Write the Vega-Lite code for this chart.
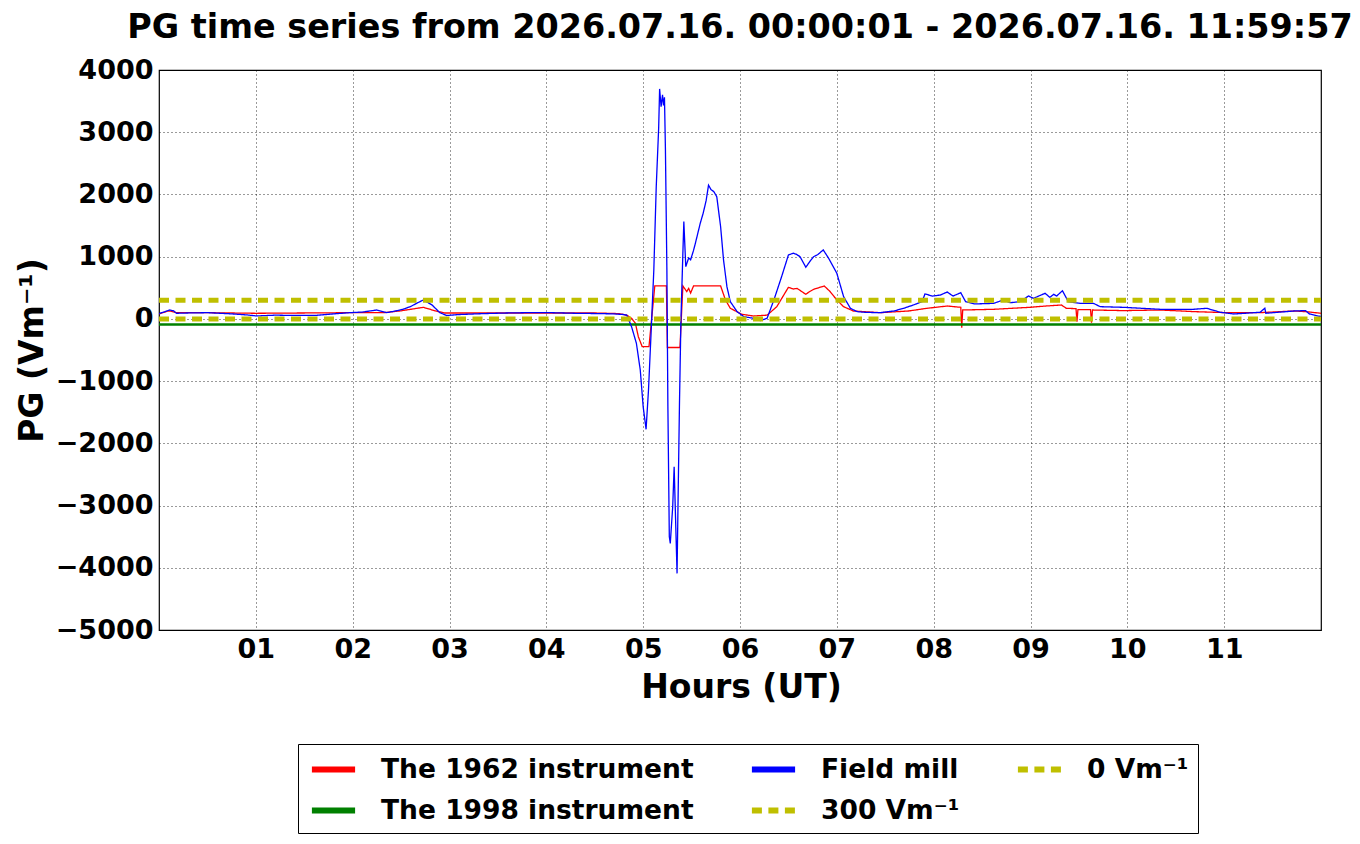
{
  "$schema": "https://vega.github.io/schema/vega-lite/v6.json",
  "width": 1162,
  "height": 560,
  "autosize": {"type": "none"},
  "padding": {"left": 159, "top": 70, "right": 39, "bottom": 214},
  "background": "white",
  "title": {
    "text": "PG time series from 2026.07.16. 00:00:01 - 2026.07.16. 11:59:57",
    "anchor": "middle",
    "frame": "group",
    "font": "DejaVu Sans",
    "fontSize": 33.4,
    "fontWeight": "bold",
    "color": "black",
    "baseline": "alphabetic",
    "offset": -15
  },
  "config": {
    "view": {"stroke": "black", "strokeWidth": 1.2},
    "font": "DejaVu Sans",
    "axis": {
      "grid": true,
      "gridColor": "black",
      "gridDash": [1, 3],
      "gridWidth": 0.8,
      "gridOpacity": 1,
      "domain": false,
      "ticks": false,
      "labelFont": "DejaVu Sans",
      "labelFontSize": 27,
      "labelFontWeight": "bold",
      "labelColor": "black",
      "titleFont": "DejaVu Sans",
      "titleFontSize": 33,
      "titleFontWeight": "bold",
      "titleColor": "black"
    },
    "legend": {
      "orient": "none",
      "legendX": 139,
      "legendY": 674,
      "columns": 3,
      "direction": "horizontal",
      "symbolType": "M-1.6,0H1.6",
      "symbolSize": 729,
      "symbolStrokeWidth": 6,
      "symbolOffset": 10,
      "labelFont": "DejaVu Sans",
      "labelFontSize": 26.5,
      "labelFontWeight": "bold",
      "labelColor": "black",
      "labelOffset": 31,
      "labelLimit": 0,
      "columnPadding": 45,
      "rowPadding": 11,
      "padding": 9,
      "strokeColor": "black",
      "fillColor": "white"
    }
  },
  "data": {
    "values": [
      {"h": 0.00, "v": 80, "s": "The 1962 instrument"},
      {"h": 0.10, "v": 130, "s": "The 1962 instrument"},
      {"h": 0.18, "v": 100, "s": "The 1962 instrument"},
      {"h": 0.50, "v": 100, "s": "The 1962 instrument"},
      {"h": 1.00, "v": 90, "s": "The 1962 instrument"},
      {"h": 1.50, "v": 95, "s": "The 1962 instrument"},
      {"h": 2.00, "v": 100, "s": "The 1962 instrument"},
      {"h": 2.32, "v": 100, "s": "The 1962 instrument"},
      {"h": 2.50, "v": 130, "s": "The 1962 instrument"},
      {"h": 2.73, "v": 186, "s": "The 1962 instrument"},
      {"h": 2.85, "v": 130, "s": "The 1962 instrument"},
      {"h": 2.95, "v": 95, "s": "The 1962 instrument"},
      {"h": 3.50, "v": 95, "s": "The 1962 instrument"},
      {"h": 4.00, "v": 95, "s": "The 1962 instrument"},
      {"h": 4.50, "v": 95, "s": "The 1962 instrument"},
      {"h": 4.75, "v": 85, "s": "The 1962 instrument"},
      {"h": 4.83, "v": 60, "s": "The 1962 instrument"},
      {"h": 4.88, "v": 10, "s": "The 1962 instrument"},
      {"h": 4.92, "v": -71, "s": "The 1962 instrument"},
      {"h": 4.95, "v": -286, "s": "The 1962 instrument"},
      {"h": 4.99, "v": -447, "s": "The 1962 instrument"},
      {"h": 5.06, "v": -447, "s": "The 1962 instrument"},
      {"h": 5.09, "v": 40, "s": "The 1962 instrument"},
      {"h": 5.12, "v": 529, "s": "The 1962 instrument"},
      {"h": 5.24, "v": 529, "s": "The 1962 instrument"},
      {"h": 5.25, "v": -460, "s": "The 1962 instrument"},
      {"h": 5.38, "v": -460, "s": "The 1962 instrument"},
      {"h": 5.41, "v": 529, "s": "The 1962 instrument"},
      {"h": 5.45, "v": 440, "s": "The 1962 instrument"},
      {"h": 5.47, "v": 490, "s": "The 1962 instrument"},
      {"h": 5.49, "v": 415, "s": "The 1962 instrument"},
      {"h": 5.52, "v": 529, "s": "The 1962 instrument"},
      {"h": 5.80, "v": 529, "s": "The 1962 instrument"},
      {"h": 5.85, "v": 304, "s": "The 1962 instrument"},
      {"h": 5.90, "v": 170, "s": "The 1962 instrument"},
      {"h": 6.02, "v": 74, "s": "The 1962 instrument"},
      {"h": 6.14, "v": 46, "s": "The 1962 instrument"},
      {"h": 6.28, "v": 60, "s": "The 1962 instrument"},
      {"h": 6.38, "v": 196, "s": "The 1962 instrument"},
      {"h": 6.50, "v": 508, "s": "The 1962 instrument"},
      {"h": 6.55, "v": 480, "s": "The 1962 instrument"},
      {"h": 6.59, "v": 490, "s": "The 1962 instrument"},
      {"h": 6.68, "v": 395, "s": "The 1962 instrument"},
      {"h": 6.72, "v": 440, "s": "The 1962 instrument"},
      {"h": 6.76, "v": 475, "s": "The 1962 instrument"},
      {"h": 6.87, "v": 529, "s": "The 1962 instrument"},
      {"h": 6.93, "v": 440, "s": "The 1962 instrument"},
      {"h": 7.00, "v": 304, "s": "The 1962 instrument"},
      {"h": 7.07, "v": 196, "s": "The 1962 instrument"},
      {"h": 7.17, "v": 127, "s": "The 1962 instrument"},
      {"h": 7.45, "v": 100, "s": "The 1962 instrument"},
      {"h": 7.74, "v": 127, "s": "The 1962 instrument"},
      {"h": 7.93, "v": 170, "s": "The 1962 instrument"},
      {"h": 8.14, "v": 207, "s": "The 1962 instrument"},
      {"h": 8.28, "v": 186, "s": "The 1962 instrument"},
      {"h": 8.29, "v": -141, "s": "The 1962 instrument"},
      {"h": 8.30, "v": 143, "s": "The 1962 instrument"},
      {"h": 8.62, "v": 154, "s": "The 1962 instrument"},
      {"h": 8.99, "v": 186, "s": "The 1962 instrument"},
      {"h": 9.16, "v": 207, "s": "The 1962 instrument"},
      {"h": 9.32, "v": 223, "s": "The 1962 instrument"},
      {"h": 9.37, "v": 170, "s": "The 1962 instrument"},
      {"h": 9.47, "v": 165, "s": "The 1962 instrument"},
      {"h": 9.48, "v": -45, "s": "The 1962 instrument"},
      {"h": 9.49, "v": 150, "s": "The 1962 instrument"},
      {"h": 9.62, "v": 150, "s": "The 1962 instrument"},
      {"h": 9.63, "v": -61, "s": "The 1962 instrument"},
      {"h": 9.64, "v": 143, "s": "The 1962 instrument"},
      {"h": 9.96, "v": 133, "s": "The 1962 instrument"},
      {"h": 10.34, "v": 143, "s": "The 1962 instrument"},
      {"h": 10.68, "v": 117, "s": "The 1962 instrument"},
      {"h": 11.03, "v": 100, "s": "The 1962 instrument"},
      {"h": 11.37, "v": 100, "s": "The 1962 instrument"},
      {"h": 11.72, "v": 127, "s": "The 1962 instrument"},
      {"h": 11.84, "v": 117, "s": "The 1962 instrument"},
      {"h": 12.00, "v": 90, "s": "The 1962 instrument"},
      {"h": 0, "v": -90, "s": "The 1998 instrument"},
      {"h": 12, "v": -90, "s": "The 1998 instrument"},
      {"h": 0.00, "v": 85, "s": "Field mill"},
      {"h": 0.05, "v": 110, "s": "Field mill"},
      {"h": 0.11, "v": 143, "s": "Field mill"},
      {"h": 0.15, "v": 130, "s": "Field mill"},
      {"h": 0.18, "v": 90, "s": "Field mill"},
      {"h": 0.30, "v": 95, "s": "Field mill"},
      {"h": 0.50, "v": 100, "s": "Field mill"},
      {"h": 0.70, "v": 85, "s": "Field mill"},
      {"h": 0.90, "v": 65, "s": "Field mill"},
      {"h": 1.01, "v": 47, "s": "Field mill"},
      {"h": 1.20, "v": 60, "s": "Field mill"},
      {"h": 1.40, "v": 55, "s": "Field mill"},
      {"h": 1.63, "v": 58, "s": "Field mill"},
      {"h": 1.80, "v": 80, "s": "Field mill"},
      {"h": 1.97, "v": 100, "s": "Field mill"},
      {"h": 2.10, "v": 110, "s": "Field mill"},
      {"h": 2.25, "v": 143, "s": "Field mill"},
      {"h": 2.35, "v": 100, "s": "Field mill"},
      {"h": 2.45, "v": 130, "s": "Field mill"},
      {"h": 2.52, "v": 154, "s": "Field mill"},
      {"h": 2.60, "v": 200, "s": "Field mill"},
      {"h": 2.66, "v": 250, "s": "Field mill"},
      {"h": 2.73, "v": 304, "s": "Field mill"},
      {"h": 2.77, "v": 270, "s": "Field mill"},
      {"h": 2.82, "v": 223, "s": "Field mill"},
      {"h": 2.90, "v": 100, "s": "Field mill"},
      {"h": 2.97, "v": 55, "s": "Field mill"},
      {"h": 3.10, "v": 70, "s": "Field mill"},
      {"h": 3.35, "v": 85, "s": "Field mill"},
      {"h": 3.60, "v": 95, "s": "Field mill"},
      {"h": 3.80, "v": 100, "s": "Field mill"},
      {"h": 4.04, "v": 100, "s": "Field mill"},
      {"h": 4.30, "v": 90, "s": "Field mill"},
      {"h": 4.56, "v": 85, "s": "Field mill"},
      {"h": 4.70, "v": 80, "s": "Field mill"},
      {"h": 4.80, "v": 70, "s": "Field mill"},
      {"h": 4.83, "v": 60, "s": "Field mill"},
      {"h": 4.88, "v": -125, "s": "Field mill"},
      {"h": 4.93, "v": -392, "s": "Field mill"},
      {"h": 4.97, "v": -821, "s": "Field mill"},
      {"h": 5.00, "v": -1411, "s": "Field mill"},
      {"h": 5.03, "v": -1775, "s": "Field mill"},
      {"h": 5.055, "v": -1143, "s": "Field mill"},
      {"h": 5.08, "v": -286, "s": "Field mill"},
      {"h": 5.11, "v": 786, "s": "Field mill"},
      {"h": 5.135, "v": 2125, "s": "Field mill"},
      {"h": 5.16, "v": 3064, "s": "Field mill"},
      {"h": 5.17, "v": 3696, "s": "Field mill"},
      {"h": 5.185, "v": 3412, "s": "Field mill"},
      {"h": 5.20, "v": 3600, "s": "Field mill"},
      {"h": 5.21, "v": 3430, "s": "Field mill"},
      {"h": 5.22, "v": 3560, "s": "Field mill"},
      {"h": 5.23, "v": 2715, "s": "Field mill"},
      {"h": 5.245, "v": 786, "s": "Field mill"},
      {"h": 5.255, "v": -1357, "s": "Field mill"},
      {"h": 5.27, "v": -3500, "s": "Field mill"},
      {"h": 5.28, "v": -3608, "s": "Field mill"},
      {"h": 5.305, "v": -3020, "s": "Field mill"},
      {"h": 5.32, "v": -2376, "s": "Field mill"},
      {"h": 5.335, "v": -3233, "s": "Field mill"},
      {"h": 5.35, "v": -4090, "s": "Field mill"},
      {"h": 5.36, "v": -2965, "s": "Field mill"},
      {"h": 5.375, "v": -1357, "s": "Field mill"},
      {"h": 5.39, "v": -18, "s": "Field mill"},
      {"h": 5.41, "v": 1055, "s": "Field mill"},
      {"h": 5.42, "v": 1563, "s": "Field mill"},
      {"h": 5.44, "v": 840, "s": "Field mill"},
      {"h": 5.47, "v": 980, "s": "Field mill"},
      {"h": 5.49, "v": 950, "s": "Field mill"},
      {"h": 5.52, "v": 1100, "s": "Field mill"},
      {"h": 5.54, "v": 1220, "s": "Field mill"},
      {"h": 5.59, "v": 1540, "s": "Field mill"},
      {"h": 5.62, "v": 1700, "s": "Field mill"},
      {"h": 5.65, "v": 1900, "s": "Field mill"},
      {"h": 5.675, "v": 2150, "s": "Field mill"},
      {"h": 5.70, "v": 2080, "s": "Field mill"},
      {"h": 5.73, "v": 2045, "s": "Field mill"},
      {"h": 5.76, "v": 1965, "s": "Field mill"},
      {"h": 5.80, "v": 1480, "s": "Field mill"},
      {"h": 5.83, "v": 947, "s": "Field mill"},
      {"h": 5.865, "v": 518, "s": "Field mill"},
      {"h": 5.90, "v": 277, "s": "Field mill"},
      {"h": 5.97, "v": 116, "s": "Field mill"},
      {"h": 6.04, "v": 36, "s": "Field mill"},
      {"h": 6.14, "v": 10, "s": "Field mill"},
      {"h": 6.21, "v": -28, "s": "Field mill"},
      {"h": 6.28, "v": 10, "s": "Field mill"},
      {"h": 6.35, "v": 304, "s": "Field mill"},
      {"h": 6.43, "v": 680, "s": "Field mill"},
      {"h": 6.50, "v": 1027, "s": "Field mill"},
      {"h": 6.55, "v": 1055, "s": "Field mill"},
      {"h": 6.58, "v": 1040, "s": "Field mill"},
      {"h": 6.62, "v": 1000, "s": "Field mill"},
      {"h": 6.68, "v": 830, "s": "Field mill"},
      {"h": 6.72, "v": 920, "s": "Field mill"},
      {"h": 6.76, "v": 1000, "s": "Field mill"},
      {"h": 6.80, "v": 1030, "s": "Field mill"},
      {"h": 6.86, "v": 1108, "s": "Field mill"},
      {"h": 6.915, "v": 975, "s": "Field mill"},
      {"h": 7.00, "v": 733, "s": "Field mill"},
      {"h": 7.07, "v": 357, "s": "Field mill"},
      {"h": 7.14, "v": 170, "s": "Field mill"},
      {"h": 7.21, "v": 116, "s": "Field mill"},
      {"h": 7.30, "v": 105, "s": "Field mill"},
      {"h": 7.45, "v": 100, "s": "Field mill"},
      {"h": 7.59, "v": 127, "s": "Field mill"},
      {"h": 7.69, "v": 170, "s": "Field mill"},
      {"h": 7.79, "v": 223, "s": "Field mill"},
      {"h": 7.88, "v": 277, "s": "Field mill"},
      {"h": 7.91, "v": 400, "s": "Field mill"},
      {"h": 7.99, "v": 367, "s": "Field mill"},
      {"h": 8.07, "v": 384, "s": "Field mill"},
      {"h": 8.14, "v": 432, "s": "Field mill"},
      {"h": 8.20, "v": 367, "s": "Field mill"},
      {"h": 8.28, "v": 421, "s": "Field mill"},
      {"h": 8.33, "v": 277, "s": "Field mill"},
      {"h": 8.42, "v": 240, "s": "Field mill"},
      {"h": 8.62, "v": 250, "s": "Field mill"},
      {"h": 8.72, "v": 304, "s": "Field mill"},
      {"h": 8.79, "v": 260, "s": "Field mill"},
      {"h": 8.89, "v": 277, "s": "Field mill"},
      {"h": 8.98, "v": 368, "s": "Field mill"},
      {"h": 9.03, "v": 330, "s": "Field mill"},
      {"h": 9.15, "v": 411, "s": "Field mill"},
      {"h": 9.20, "v": 346, "s": "Field mill"},
      {"h": 9.24, "v": 395, "s": "Field mill"},
      {"h": 9.27, "v": 367, "s": "Field mill"},
      {"h": 9.33, "v": 453, "s": "Field mill"},
      {"h": 9.39, "v": 277, "s": "Field mill"},
      {"h": 9.51, "v": 250, "s": "Field mill"},
      {"h": 9.65, "v": 250, "s": "Field mill"},
      {"h": 9.72, "v": 196, "s": "Field mill"},
      {"h": 9.96, "v": 186, "s": "Field mill"},
      {"h": 10.34, "v": 154, "s": "Field mill"},
      {"h": 10.68, "v": 154, "s": "Field mill"},
      {"h": 10.82, "v": 170, "s": "Field mill"},
      {"h": 10.96, "v": 106, "s": "Field mill"},
      {"h": 11.10, "v": 79, "s": "Field mill"},
      {"h": 11.37, "v": 106, "s": "Field mill"},
      {"h": 11.42, "v": 170, "s": "Field mill"},
      {"h": 11.43, "v": 90, "s": "Field mill"},
      {"h": 11.72, "v": 127, "s": "Field mill"},
      {"h": 11.84, "v": 133, "s": "Field mill"},
      {"h": 11.88, "v": 79, "s": "Field mill"},
      {"h": 12.00, "v": 36, "s": "Field mill"},
      {"h": 0, "v": 300, "s": "300 Vm⁻¹"},
      {"h": 12, "v": 300, "s": "300 Vm⁻¹"},
      {"h": 0, "v": 0, "s": "0 Vm⁻¹"},
      {"h": 12, "v": 0, "s": "0 Vm⁻¹"}
    ]
  },
  "encoding": {
    "x": {
      "field": "h",
      "type": "quantitative",
      "scale": {"domain": [0, 12], "nice": false, "zero": false},
      "axis": {
        "values": [1, 2, 3, 4, 5, 6, 7, 8, 9, 10, 11],
        "labelExpr": "datum.value < 10 ? '0' + datum.value : '' + datum.value",
        "labelPadding": 6,
        "title": "Hours (UT)",
        "titleX": 582,
        "titleY": 67,
        "titleAlign": "center",
        "titleBaseline": "alphabetic"
      }
    },
    "y": {
      "field": "v",
      "type": "quantitative",
      "scale": {"domain": [-5000, 4000], "nice": false, "zero": false},
      "axis": {
        "values": [-5000, -4000, -3000, -2000, -1000, 0, 1000, 2000, 3000, 4000],
        "format": "d",
        "labelPadding": 6,
        "title": "PG (Vm⁻¹)",
        "titleX": -117,
        "titleY": 280,
        "titleAngle": -90,
        "titleAlign": "center",
        "titleBaseline": "alphabetic"
      }
    },
    "color": {
      "field": "s",
      "type": "nominal",
      "scale": {
        "domain": ["The 1962 instrument", "Field mill", "0 Vm⁻¹", "The 1998 instrument", "300 Vm⁻¹"],
        "range": ["#ff0000", "#0000ff", "#bfbf00", "#008000", "#bfbf00"]
      },
      "legend": {"title": null, "symbolStrokeWidth": 6, "symbolFillColor": "transparent"}
    },
    "strokeDash": {
      "field": "s",
      "type": "nominal",
      "scale": {
        "domain": ["The 1962 instrument", "Field mill", "0 Vm⁻¹", "The 1998 instrument", "300 Vm⁻¹"],
        "range": [[1, 0], [1, 0], [10, 6.5], [1, 0], [10, 6.5]]
      },
      "legend": {"title": null, "symbolStrokeWidth": 6, "symbolFillColor": "transparent"}
    }
  },
  "layer": [
    {
      "transform": [{"filter": "datum.s === 'The 1962 instrument'"}],
      "mark": {"type": "line", "clip": true, "strokeWidth": 1.3}
    },
    {
      "transform": [{"filter": "datum.s === 'The 1998 instrument'"}],
      "mark": {"type": "line", "clip": true, "strokeWidth": 2.5}
    },
    {
      "transform": [{"filter": "datum.s === 'Field mill'"}],
      "mark": {"type": "line", "clip": true, "strokeWidth": 1.3}
    },
    {
      "transform": [{"filter": "datum.s === '300 Vm⁻¹' || datum.s === '0 Vm⁻¹'"}],
      "mark": {"type": "line", "clip": true, "strokeWidth": 5}
    }
  ]
}
